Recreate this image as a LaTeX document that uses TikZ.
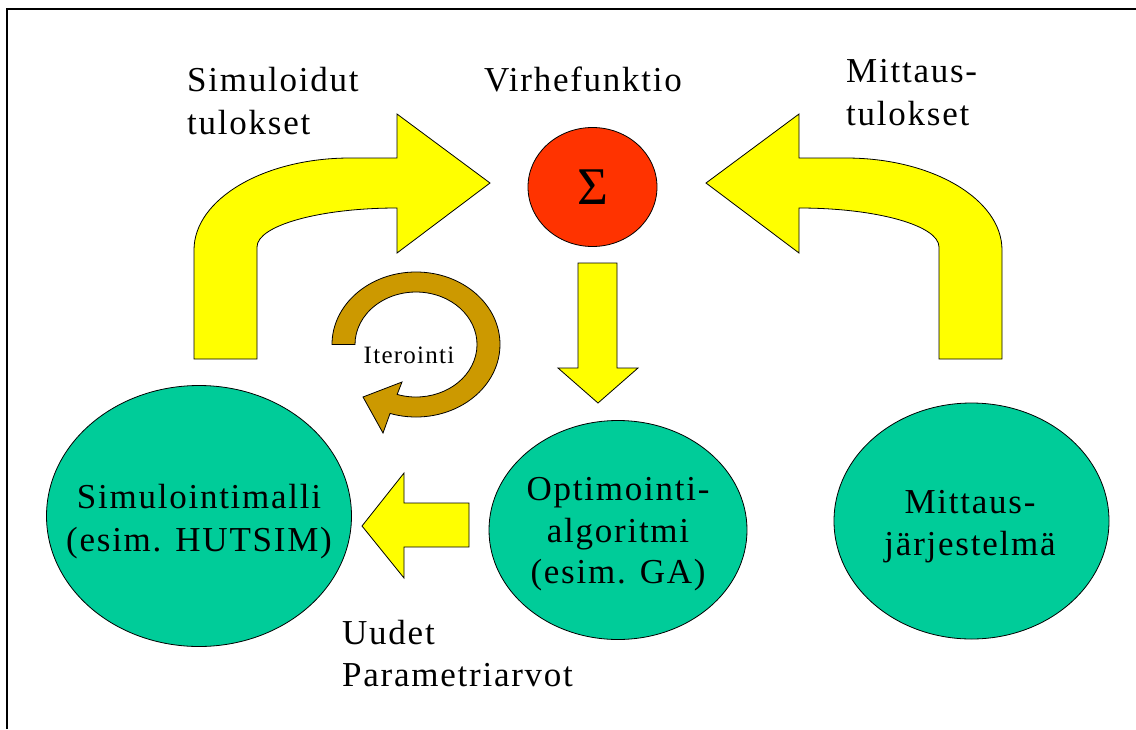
\documentclass[tikz,border=0pt]{standalone}
\usepackage{fontspec}
\setmainfont{Liberation Serif}
\newfontfamily\spaced{Liberation Serif}[LetterSpace=5]
\usetikzlibrary{shapes.geometric}
\definecolor{arrowyellow}{HTML}{FFFF00}
\definecolor{ovalgreen}{HTML}{00CC99}
\definecolor{sumred}{HTML}{FF3300}
\definecolor{loopgold}{HTML}{CC9900}
\tikzset{
  blockarrow/.style={draw=black, line width=0.8pt, fill=arrowyellow, line join=miter},
  loopshape/.style={draw=black, line width=0.8pt, fill=loopgold, line join=miter},
  oval/.style={ellipse, draw=black, line width=0.8pt, fill=ovalgreen, inner sep=0pt},
  lbl/.style={font=\spaced\fontsize{35}{43}\selectfont, inner sep=0pt},
  smalllbl/.style={font=\spaced\fontsize{25}{30}\selectfont, inner sep=0pt},
  frameline/.style={draw=black, line width=1.5pt},
}
\begin{document}
\begin{tikzpicture}[x=1pt,y=-1pt]
\useasboundingbox (0,0) rectangle (1136,729);
\fill[white] (0,0) rectangle (1136,729);
% frame
\coordinate (fbl) at (7,729);
\coordinate (ftl) at (7,9);
\coordinate (ftr) at (1136,9);
\draw[frameline] (fbl) -- (ftl) -- (ftr);

% ovals
\node[oval, minimum width=305pt, minimum height=261pt] (sim) at (199,516) {};
\node[oval, minimum width=258pt, minimum height=219pt] (opt) at (618,530) {};
\node[oval, minimum width=275pt, minimum height=236pt] (mit) at (971.5,521) {};
\node[ellipse, draw=black, line width=0.8pt, fill=sumred, inner sep=0pt,
      minimum width=129pt, minimum height=119pt] (sum) at (592.5,187) {};
\node[font=\fontsize{53}{53}\selectfont, inner sep=0pt] (sigma) at (sum.center) {Σ};

% left curved arrow (simulated results)
\draw[blockarrow] (194,359) -- (194,250)
  .. controls (194,199.2) and (263.8,158) .. (350,158)
  -- (397,158) -- (397,114) -- (490,183) -- (397,253) -- (397,208)
  .. controls (319.7,208) and (257,225.5) .. (257,247)
  -- (257,359) -- cycle;

% right curved arrow (measured results)
\draw[blockarrow] (1002,359) -- (1002,250)
  .. controls (1002,199.2) and (932.2,158) .. (846,158)
  -- (799,158) -- (799,114) -- (706,183) -- (799,253) -- (799,208)
  .. controls (876.3,208) and (939,225.5) .. (939,247)
  -- (939,359) -- cycle;

% down arrow
\draw[blockarrow] (578,263) -- (617,263) -- (617,368) -- (638,368) -- (598,403)
  -- (558,368) -- (578,368) -- cycle;

% left arrow (new parameter values)
\draw[blockarrow] (469,503) -- (404,503) -- (404,473) -- (362,526) -- (404,578)
  -- (404,547) -- (469,547) -- cycle;

% iteration loop
\draw[loopshape] (332,344.5) arc[start angle=180, end angle=468, x radius=84, y radius=72.5]
  -- (383,433) -- (363,397) -- (402,382)
  -- (397.15,394.43) arc[start angle=468, end angle=180, x radius=61, y radius=52.5] -- cycle;

% labels
\node[lbl, anchor=base west] (simres1) at (187,91) {Simuloidut};
\node[lbl, anchor=base west] (simres2) at (187,134) {tulokset};
\node[lbl, anchor=base] (virhe) at (583,91) {Virhefunktio};
\node[lbl, anchor=base west] (meas1) at (846,82) {Mittaus-};
\node[lbl, anchor=base west] (meas2) at (846,125) {tulokset};
\node[smalllbl, anchor=base] (iter) at (409,363) {Iterointi};
\node[lbl, anchor=base] (simtxt1) at (199,508) {Simulointimalli};
\node[lbl, anchor=base] (simtxt2) at (199,551) {(esim. HUTSIM)};
\node[lbl, anchor=base] (opttxt1) at (618,500) {Optimointi-};
\node[lbl, anchor=base] (opttxt2) at (618,542) {algoritmi};
\node[lbl, anchor=base] (opttxt3) at (618,583) {(esim. GA)};
\node[lbl, anchor=base] (mittxt1) at (970,513) {Mittaus-};
\node[lbl, anchor=base] (mittxt2) at (970,555) {järjestelmä};
\node[lbl, anchor=base west] (new1) at (342,644) {Uudet};
\node[lbl, anchor=base west] (new2) at (342,686) {Parametriarvot};
\end{tikzpicture}
\end{document}
